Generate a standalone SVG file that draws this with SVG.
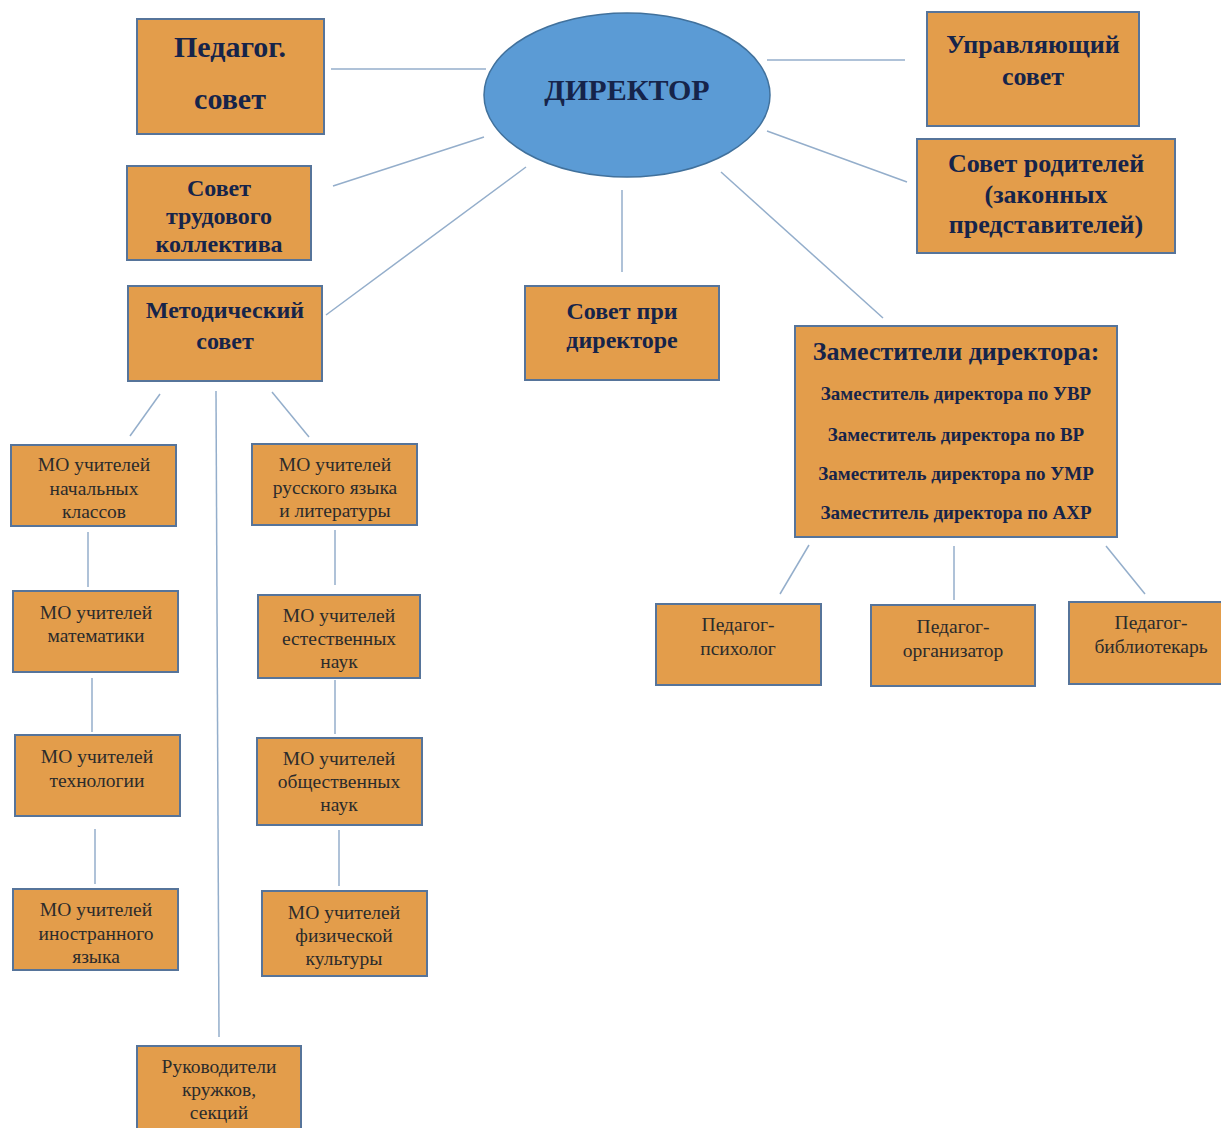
<svg xmlns="http://www.w3.org/2000/svg" width="1221" height="1128" viewBox="0 0 1221 1128">
<style>
.box{fill:#E39D4B;stroke:#56749A;stroke-width:2}
.ell{fill:#5B9BD5;stroke:#41719C;stroke-width:1.5}
.ln{stroke:#94AECB;stroke-width:1.5;fill:none}
text{font-family:"Liberation Serif","Times New Roman",serif;text-anchor:middle}
.b{font-weight:bold;fill:#16244A}
.r{fill:#2B2B2B;font-size:19.5px}
</style>
<rect width="1221" height="1128" fill="#FFFFFF"/>
<g id="connectors">
<line class="ln" x1="331" y1="69" x2="486" y2="69"/>
<line class="ln" x1="333" y1="186" x2="484" y2="137"/>
<line class="ln" x1="326" y1="315" x2="526" y2="167"/>
<line class="ln" x1="622" y1="190" x2="622" y2="272"/>
<line class="ln" x1="767" y1="60" x2="905" y2="60"/>
<line class="ln" x1="767" y1="131" x2="907" y2="182"/>
<line class="ln" x1="721" y1="172" x2="883" y2="318"/>
<line class="ln" x1="160" y1="394" x2="130" y2="436"/>
<line class="ln" x1="216" y1="391" x2="219" y2="1037"/>
<line class="ln" x1="272" y1="392" x2="309" y2="437"/>
<line class="ln" x1="88" y1="532" x2="88" y2="587"/>
<line class="ln" x1="92" y1="678" x2="92" y2="732"/>
<line class="ln" x1="95" y1="829" x2="95" y2="884"/>
<line class="ln" x1="335" y1="530" x2="335" y2="585"/>
<line class="ln" x1="335" y1="680" x2="335" y2="734"/>
<line class="ln" x1="339" y1="830" x2="339" y2="886"/>
<line class="ln" x1="809" y1="545" x2="780" y2="594"/>
<line class="ln" x1="954" y1="546" x2="954" y2="600"/>
<line class="ln" x1="1106" y1="546" x2="1145" y2="594"/>
</g>
<g id="director">
<ellipse class="ell" cx="627" cy="95" rx="143" ry="82"/>
<text class="b" x="627" y="100" font-size="30" fill="#1F3864">ДИРЕКТОР</text>
</g>
<g id="pedsovet">
<rect class="box" x="137" y="19" width="187" height="115"/>
<text class="b" x="230" y="57" font-size="30">Педагог.</text>
<text class="b" x="230" y="109" font-size="30">совет</text>
</g>
<g id="upravl">
<rect class="box" x="927" y="12" width="212" height="114"/>
<text class="b" x="1033" y="53" font-size="26">Управляющий</text>
<text class="b" x="1033" y="85" font-size="26">совет</text>
</g>
<g id="roditeli">
<rect class="box" x="917" y="139" width="258" height="114"/>
<text class="b" x="1046" y="172" font-size="26">Совет родителей</text>
<text class="b" x="1046" y="203" font-size="26">(законных</text>
<text class="b" x="1046" y="233" font-size="26">представителей)</text>
</g>
<g id="trud">
<rect class="box" x="127" y="166" width="184" height="94"/>
<text class="b" x="219" y="196" font-size="24">Совет</text>
<text class="b" x="219" y="224" font-size="24">трудового</text>
<text class="b" x="219" y="252" font-size="24">коллектива</text>
</g>
<g id="metod">
<rect class="box" x="128" y="286" width="194" height="95"/>
<text class="b" x="225" y="318" font-size="24">Методический</text>
<text class="b" x="225" y="349" font-size="24">совет</text>
</g>
<g id="sovetpri">
<rect class="box" x="525" y="286" width="194" height="94"/>
<text class="b" x="622" y="319" font-size="24">Совет при</text>
<text class="b" x="622" y="348" font-size="24">директоре</text>
</g>
<g id="zam">
<rect class="box" x="795" y="326" width="322" height="211"/>
<text class="b" x="956" y="360" font-size="26">Заместители директора:</text>
<text class="b" x="956" y="400" font-size="19">Заместитель директора по УВР</text>
<text class="b" x="956" y="441" font-size="19">Заместитель директора по ВР</text>
<text class="b" x="956" y="480" font-size="19">Заместитель директора по УМР</text>
<text class="b" x="956" y="519" font-size="19">Заместитель директора по АХР</text>
</g>
<g id="psiholog">
<rect class="box" x="656" y="604" width="165" height="81"/>
<text class="r" x="738" y="631">Педагог-</text>
<text class="r" x="738" y="655">психолог</text>
</g>
<g id="organizator">
<rect class="box" x="871" y="605" width="164" height="81"/>
<text class="r" x="953" y="633">Педагог-</text>
<text class="r" x="953" y="657">организатор</text>
</g>
<g id="bibliotekar">
<rect class="box" x="1069" y="602" width="155" height="82"/>
<text class="r" x="1151" y="629">Педагог-</text>
<text class="r" x="1151" y="653">библиотекарь</text>
</g>
<g id="mo-nach">
<rect class="box" x="11" y="445" width="165" height="81"/>
<text class="r" x="94" y="471">МО учителей</text>
<text class="r" x="94" y="495">начальных</text>
<text class="r" x="94" y="518">классов</text>
</g>
<g id="mo-mat">
<rect class="box" x="13" y="591" width="165" height="81"/>
<text class="r" x="96" y="619">МО учителей</text>
<text class="r" x="96" y="642">математики</text>
</g>
<g id="mo-teh">
<rect class="box" x="15" y="735" width="165" height="81"/>
<text class="r" x="97" y="763">МО учителей</text>
<text class="r" x="97" y="787">технологии</text>
</g>
<g id="mo-in">
<rect class="box" x="13" y="889" width="165" height="81"/>
<text class="r" x="96" y="916">МО учителей</text>
<text class="r" x="96" y="940">иностранного</text>
<text class="r" x="96" y="963">языка</text>
</g>
<g id="mo-rus">
<rect class="box" x="252" y="444" width="165" height="81"/>
<text class="r" x="335" y="471">МО учителей</text>
<text class="r" x="335" y="494">русского языка</text>
<text class="r" x="335" y="517">и литературы</text>
</g>
<g id="mo-est">
<rect class="box" x="258" y="595" width="162" height="83"/>
<text class="r" x="339" y="622">МО учителей</text>
<text class="r" x="339" y="645">естественных</text>
<text class="r" x="339" y="668">наук</text>
</g>
<g id="mo-obsh">
<rect class="box" x="257" y="738" width="165" height="87"/>
<text class="r" x="339" y="765">МО учителей</text>
<text class="r" x="339" y="788">общественных</text>
<text class="r" x="339" y="811">наук</text>
</g>
<g id="mo-fiz">
<rect class="box" x="262" y="891" width="165" height="85"/>
<text class="r" x="344" y="919">МО учителей</text>
<text class="r" x="344" y="942">физической</text>
<text class="r" x="344" y="965">культуры</text>
</g>
<g id="kruzhki">
<rect class="box" x="137" y="1046" width="164" height="90"/>
<text class="r" x="219" y="1073">Руководители</text>
<text class="r" x="219" y="1096">кружков,</text>
<text class="r" x="219" y="1119">секций</text>
</g>
</svg>
